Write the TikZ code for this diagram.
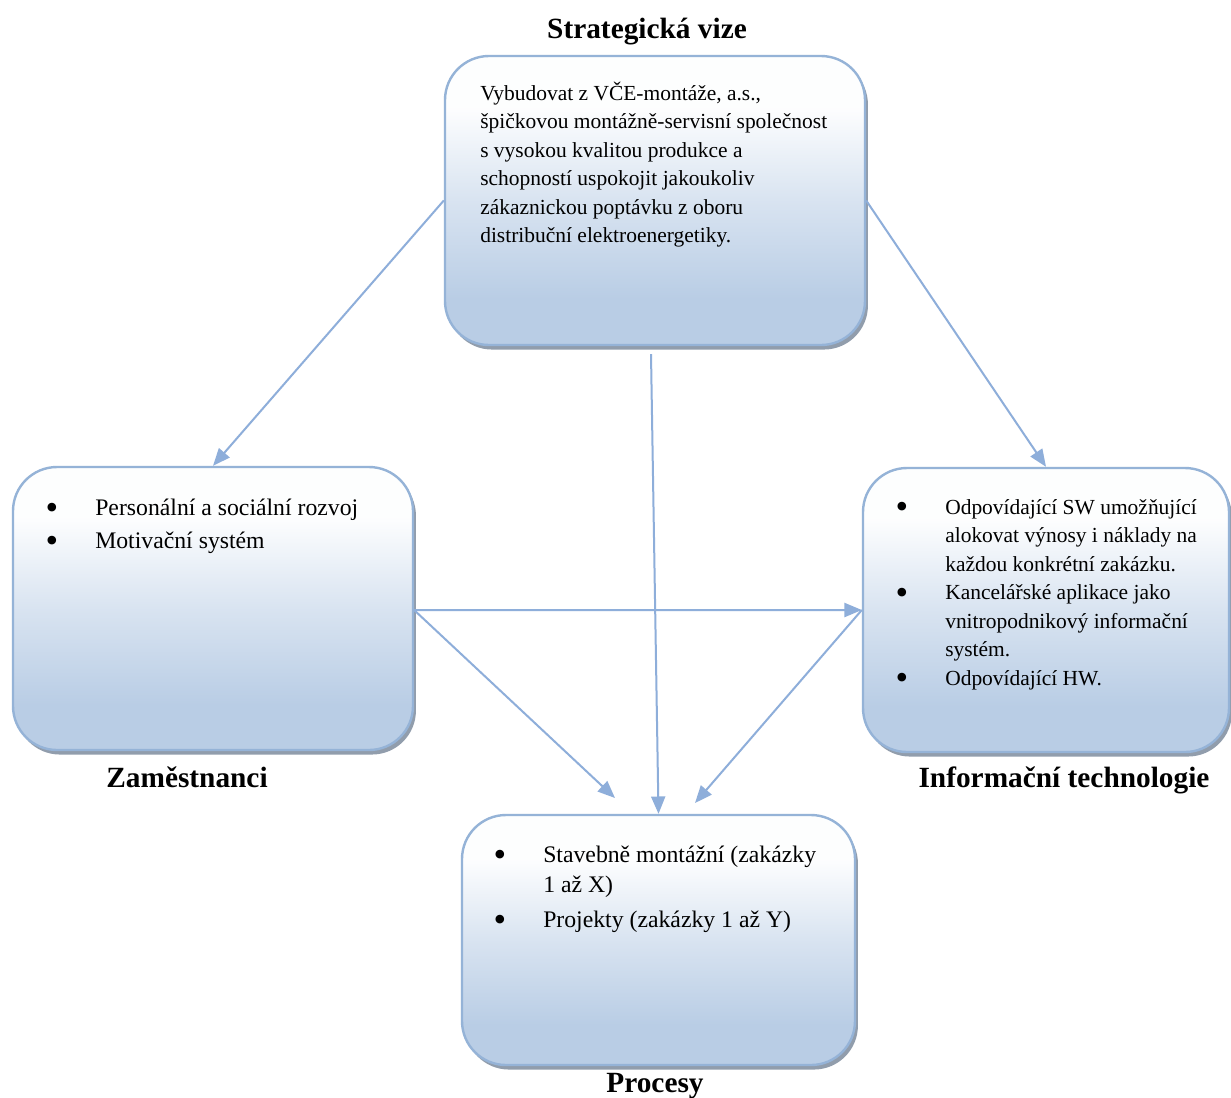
\documentclass[tikz,border=0pt]{standalone}
\usepackage{fontspec}
\setmainfont{Liberation Serif}
\usetikzlibrary{arrows.meta,shadows}
\definecolor{boxedge}{HTML}{95B3D7}
\definecolor{boxblue}{HTML}{B9CDE5}
\definecolor{arrowblue}{HTML}{8EAEDA}
\definecolor{shadowgrey}{HTML}{7E8C9E}
% vertical fill of the panels: pale at the top, light blue at the bottom
\pgfdeclareverticalshading{boxfill}{100bp}{color(0bp)=(boxblue); color(33bp)=(boxblue); color(50bp)=(boxblue!55!white); color(66bp)=(white!97!boxblue); color(100bp)=(white!97!boxblue)}
\newcommand{\bigdot}{\raisebox{-3.6pt}{\fontsize{27}{27}\selectfont\textbullet}}
\tikzset{
  panel/.style={draw=boxedge, line width=1.8pt, rounded corners=33pt, shading=boxfill, inner sep=0pt,
    general shadow={fill=shadowgrey, shadow xshift=2.2pt, shadow yshift=-3.4pt, opacity=0.85}},
  body/.style={anchor=base west, inner sep=0pt, font=\fontsize{17.8}{21}\selectfont},
  small/.style={anchor=base west, inner sep=0pt, font=\fontsize{16.1}{21}\selectfont},
  dot/.style={anchor=base, inner sep=0pt},
  heading/.style={anchor=base, inner sep=0pt, font=\fontsize{22}{26}\selectfont\bfseries},
  conn/.style={draw=arrowblue, line width=1.5pt, -{Triangle[length=13pt,width=10.5pt]}}
}
\begin{document}
\begin{tikzpicture}[x=0.75pt, y=-0.75pt]
\useasboundingbox[fill=white] (0,0) rectangle (1231,1097);

% panels
\node[panel, minimum width=315pt, minimum height=216.75pt] (vize) at (655,200.5) {};
\node[panel, minimum width=300pt, minimum height=212.25pt] (zam) at (213,608.5) {};
\node[panel, minimum width=274.5pt, minimum height=213pt] (it) at (1046,610) {};
\node[panel, minimum width=294.75pt, minimum height=187.5pt] (proc) at (658.5,940) {};

% headings
\node[heading] (hv) at (647,38) {Strategická vize};
\node[heading] (hz) at (187,787) {Zaměstnanci};
\node[heading] (hi) at (1064,787) {Informační technologie};
\node[heading] (hp) at (655,1092) {Procesy};

% vision text
\node[small] (v1) at (480,100) {Vybudovat z VČE-montáže, a.s.,};
\node[small] (v2) at (480,128.5) {špičkovou montážně-servisní společnost};
\node[small] (v3) at (480,157) {s vysokou kvalitou produkce a};
\node[small] (v4) at (480,185.5) {schopností uspokojit jakoukoliv};
\node[small] (v5) at (480,214) {zákaznickou poptávku z oboru};
\node[small] (v6) at (480,242.5) {distribuční elektroenergetiky.};

% staff
\node[dot] (zb1) at (52,515) {\bigdot};
\node[body] (z1) at (95,515) {Personální a sociální rozvoj};
\node[dot] (zb2) at (52,548) {\bigdot};
\node[body] (z2) at (95,548) {Motivační systém};

% information technology
\node[dot] (ib1) at (902,514) {\bigdot};
\node[small] (i1) at (945,514) {Odpovídající SW umožňující};
\node[small] (i2) at (945,542.5) {alokovat výnosy i náklady na};
\node[small] (i3) at (945,571) {každou konkrétní zakázku.};
\node[dot] (ib2) at (902,599.5) {\bigdot};
\node[small] (i4) at (945,599.5) {Kancelářské aplikace jako};
\node[small] (i5) at (945,628) {vnitropodnikový informační};
\node[small] (i6) at (945,656.5) {systém.};
\node[dot] (ib3) at (902,685) {\bigdot};
\node[small] (i7) at (945,685) {Odpovídající HW.};

% processes
\node[dot] (pb1) at (500,862) {\bigdot};
\node[body] (p1) at (543,862) {Stavebně montážní (zakázky};
\node[body] (p2) at (543,892) {1 až X)};
\node[dot] (pb2) at (500,927) {\bigdot};
\node[body] (p3) at (543,927) {Projekty (zakázky 1 až Y)};

% arrow ends above the process panel
\coordinate (pl) at (615,798);
\coordinate (pr) at (695,803);

% connectors
\draw[conn] (vize.west) -- (zam.north);
\draw[conn] (vize.east) -- (it.north);
\draw[conn] ([xshift=-3pt,yshift=-6pt]vize.south) -- (proc.north);
\draw[conn] ([yshift=-1.2pt]zam.east) -- (it.west);
\draw[conn] ([yshift=-1.2pt]zam.east) -- (pl);
\draw[conn] (it.west) -- (pr);
\end{tikzpicture}
\end{document}
